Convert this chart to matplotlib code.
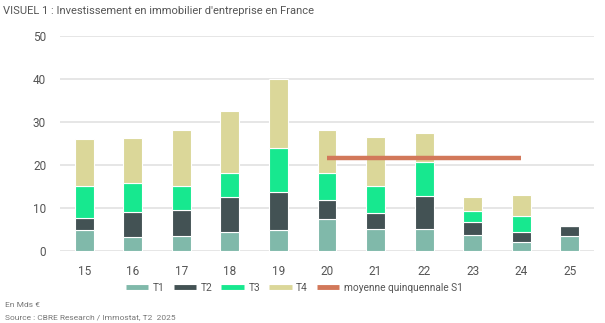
import matplotlib

matplotlib.use("Agg")
import matplotlib.pyplot as plt
import numpy as np
from matplotlib.lines import Line2D

plt.rcParams["font.family"] = ["Roboto", "DejaVu Sans"]

# Investissement par trimestre, en Mds €
years = ["15", "16", "17", "18", "19", "20", "21", "22", "23", "24", "25"]
t1 = [4.8, 3.3, 3.4, 4.4, 4.8, 7.4, 5.0, 5.0, 3.8, 2.0, 3.4]
t2 = [2.9, 5.7, 6.1, 8.2, 8.8, 4.5, 3.9, 7.7, 2.9, 2.5, 2.3]
t3 = [7.4, 6.9, 5.6, 5.5, 10.4, 6.1, 6.1, 7.9, 2.5, 3.6, 0.0]
t4 = [11.0, 10.4, 13.0, 14.5, 15.9, 10.1, 11.4, 6.9, 3.3, 4.9, 0.0]
avg_value = 21.6
avg_span = ["20", "24"]

series = [("T1", t1, "#80b9aa"), ("T2", t2, "#435254"),
          ("T3", t3, "#17e88f"), ("T4", t4, "#dbd799")]
avg_color = "#d2785a"
text_color = "#555555"

fig = plt.figure(figsize=(6.05, 3.23), dpi=100)
ax = fig.add_axes([60 / 605, 1 - 251 / 323, 534 / 605, (251 - 35.7) / 323])

x = np.arange(len(years))
bottom = np.zeros(len(years))
for name, vals, color in series:
    vals = np.array(vals)
    ax.bar(x, vals, width=0.39, bottom=bottom, color=color,
           edgecolor="white", linewidth=0.8, zorder=2)
    bottom += vals

i0, i1 = years.index(avg_span[0]), years.index(avg_span[1])
ax.plot([x[i0], x[i1]], [avg_value, avg_value], color=avg_color, lw=3.2,
        solid_capstyle="butt", zorder=3)

ax.set_xlim(-0.5, 10.5)
ax.set_ylim(0, 50)
ax.set_yticks(range(0, 51, 10))
ax.set_xticks(x)
ax.set_xticklabels(years)
ax.tick_params(length=0, labelsize=8.5, colors=text_color)
ax.tick_params(axis="y", pad=10)
ax.tick_params(axis="x", pad=10)
ax.grid(axis="y", color="#e2e2e2", lw=1.2, zorder=0)
for spine in ax.spines.values():
    spine.set_visible(False)

handles = [Line2D([], [], color=c, lw=3.5, solid_capstyle="butt") for _, _, c in series]
handles.append(Line2D([], [], color=avg_color, lw=3.5, solid_capstyle="butt"))
labels = [s[0] for s in series] + ["moyenne quinquennale S1"]
fig.legend(handles, labels, loc="center left", bbox_to_anchor=(126 / 605, 1 - 288 / 323),
           ncol=5, frameon=False, fontsize=7.3, handlelength=2.2, handletextpad=0.45,
           columnspacing=0.9, labelcolor=text_color, borderaxespad=0, borderpad=0)

fig.text(3 / 605, 1 - 11 / 323, "VISUEL 1 : Investissement en immobilier d'entreprise en France",
         fontsize=8.0, color=text_color, va="center", ha="left")
fig.text(5 / 605, 1 - 305 / 323, "En Mds €", fontsize=6.0, color="#777777", va="center")
fig.text(5 / 605, 1 - 317 / 323, "Source : CBRE Research / Immostat, T2  2025",
         fontsize=6.0, color="#777777", va="center")

fig.savefig("out.png", dpi=100)
